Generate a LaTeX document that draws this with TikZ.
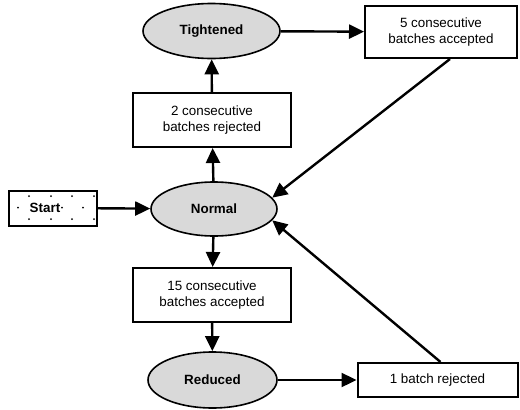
\documentclass[tikz,border=0pt]{standalone}
\usepackage{fontspec}
\setmainfont{Liberation Sans}
\usetikzlibrary{shapes.geometric,arrows.meta}
\definecolor{ellfill}{HTML}{D9D9D9}
\begin{document}
\begin{tikzpicture}[x=1pt,y=-1pt,
  every node/.style={font=\fontsize{13.4}{15.5}\selectfont, align=center, inner sep=0pt},
  state/.style={ellipse, draw, line width=1.6pt, fill=ellfill, font=\fontsize{13.4}{15.5}\selectfont\bfseries},
  cond/.style={rectangle, draw, line width=2pt, fill=white},
  conn/.style={line width=2.4pt, -{Triangle[length=15pt,width=14pt]}}]
\useasboundingbox (0,0) rectangle (520,410);
\node[state, minimum width=137pt, minimum height=55pt] (tight) at (211.5,31) {Tightened};
\node[cond, minimum width=152pt, minimum height=52pt] (acc5) at (441,32) {5 consecutive\\batches accepted};
\node[cond, minimum width=158pt, minimum height=54pt] (rej2) at (212,120) {2 consecutive\\batches rejected};
\node[state, minimum width=126pt, minimum height=54pt] (normal) at (214,209) {Normal};
\node[cond, minimum width=88pt, minimum height=35pt] (start) at (53,208) {};
\foreach \px in {29,51,72,94} { \fill (\px,196) circle (1pt); \fill (\px,219) circle (1pt); }
\foreach \px in {18,62,83} { \fill (\px,207.5) circle (1pt); }
\node[font=\fontsize{13.4}{15.5}\selectfont\bfseries] (startlbl) at (45,207.5) {Start};
\node[cond, minimum width=158pt, minimum height=54pt] (acc15) at (212,295) {15 consecutive\\batches accepted};
\node[state, minimum width=129pt, minimum height=56pt] (reduced) at (212.5,380) {Reduced};
\node[cond, minimum width=160pt, minimum height=34pt] (rej1) at (437.5,380) {1 batch rejected};
\draw[conn] (tight) -- (acc5);
\draw[conn] (rej2) -- (tight);
\draw[conn] (normal) -- (rej2);
\draw[conn] (start) -- (normal);
\draw[conn] (normal) -- (acc15);
\draw[conn] (acc15) -- (reduced);
\draw[conn] (reduced) -- (rej1);
\draw[conn] ([xshift=9pt]acc5.south) -- (normal.11);
\draw[conn] ([xshift=3pt]rej1.north) -- (normal.-11);
\end{tikzpicture}
\end{document}
